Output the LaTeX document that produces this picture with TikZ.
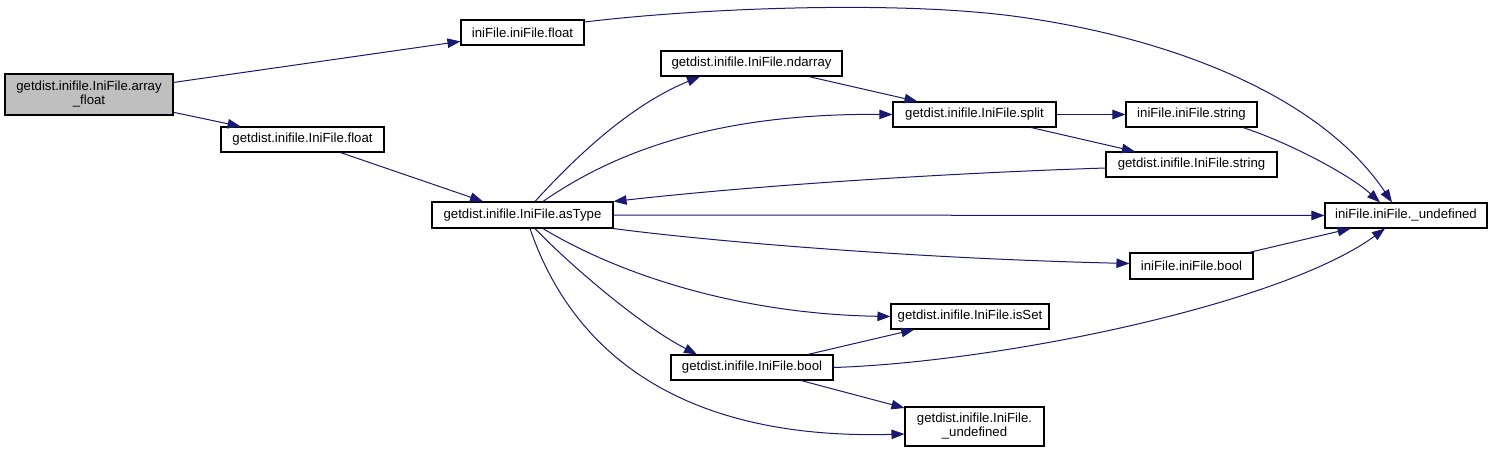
\documentclass[tikz,border=0pt]{standalone}
\usepackage{fontspec}
\usetikzlibrary{arrows.meta}
\newfontfamily\dfont{Liberation Sans}
\definecolor{azul}{HTML}{191970}
\definecolor{gris}{HTML}{BFBFBF}

\begin{document}
\begin{tikzpicture}[x=1pt, y=-1pt]
  \tikzset{
    func/.style={draw=black,fill=white,rectangle,inner sep=0pt,minimum height=25pt,line width=1.1pt,
      align=center,font=\dfont\fontsize{13.2}{14}\selectfont},
    raiz/.style={func,fill=gris},
    llam/.style={draw=azul,line width=1pt,-{Triangle[length=13pt,width=9.5pt,fill=azul]}}
  }
  \useasboundingbox (0,0) rectangle (1493,451);
  \node[raiz, minimum width=168pt, minimum height=41pt] (af) at (89,94.5) {getdist.inifile.IniFile.array\\\_float};
  \node[func, minimum width=163pt] (gfl) at (302.5,139.5) {getdist.inifile.IniFile.float};
  \node[func, minimum width=123pt] (ifl) at (522.5,32.5) {iniFile.iniFile.float};
  \node[func, minimum width=181pt] (nda) at (751.5,63.5) {getdist.inifile.IniFile.ndarray};
  \node[func, minimum width=181pt, minimum height=26pt] (ast) at (522.5,215) {getdist.inifile.IniFile.asType};
  \node[func, minimum width=163pt] (spl) at (974.5,114.5) {getdist.inifile.IniFile.split};
  \node[func, minimum width=131pt] (istr) at (1191.5,114.5) {iniFile.iniFile.string};
  \node[func, minimum width=171pt] (gstr) at (1191.5,164.5) {getdist.inifile.IniFile.string};
  \node[func, minimum width=162pt] (iund) at (1406,215.5) {iniFile.iniFile.\_undefined};
  \node[func, minimum width=123pt, minimum height=26pt] (ibool) at (1191.5,266) {iniFile.iniFile.bool};
  \node[func, minimum width=158pt] (iss) at (970,316.5) {getdist.inifile.IniFile.isSet};
  \node[func, minimum width=162pt] (gbool) at (752,367.5) {getdist.inifile.IniFile.bool};
  \node[func, minimum width=139pt, minimum height=39pt] (gund) at (974.5,426.5) {getdist.inifile.IniFile.\\\_undefined};

  \draw[llam] (af) -- (ifl);
  \draw[llam] (af) -- (gfl);
  \draw[llam] ([yshift=10.5pt]ifl.east) .. controls (700,8) and (900,0) .. (1020,17)
    .. controls (1170,38) and (1320,95) .. ([xshift=-14pt]iund.north);
  \draw[llam] (gfl) -- (ast);
  \draw[llam] ([xshift=12.5pt]ast.north) .. controls (600,130) and (650,97) .. ([xshift=-51.5pt]nda.south);
  \draw[llam] ([xshift=20.5pt]ast.north) .. controls (610,155) and (710,113) .. (spl.west);
  \draw[llam] (nda) -- (spl);
  \draw[llam] (spl) -- (istr);
  \draw[llam] (spl) -- (gstr);
  \draw[llam] ([xshift=51.5pt]istr.south) .. controls (1290,143) and (1350,175) .. ([xshift=-26pt]iund.north);
  \draw[llam] ([yshift=-3.5pt]gstr.west) .. controls (950,173) and (760,185) .. (ast.north east);
  \draw[llam] (ast) -- (iund);
  \draw[llam] (ast.south east) .. controls (700,240) and (900,258) .. ([yshift=2.5pt]ibool.west);
  \draw[llam] (ibool) -- (iund);
  \draw[llam] (gbool.east) .. controls (1000,362) and (1280,305) .. ([xshift=-21pt]iund.south);
  \draw[llam] ([xshift=20.5pt]ast.south) .. controls (620,275) and (740,314) .. (iss.west);
  \draw[llam] ([xshift=12.5pt]ast.south) .. controls (570,265) and (640,325) .. ([xshift=-55pt]gbool.north);
  \draw[llam] ([xshift=7.5pt]ast.south) .. controls (575,360) and (690,440) .. ([yshift=-7.5pt]gund.west);
  \draw[llam] (gbool) -- (iss);
  \draw[llam] (gbool) -- (gund);
\end{tikzpicture}
\end{document}
